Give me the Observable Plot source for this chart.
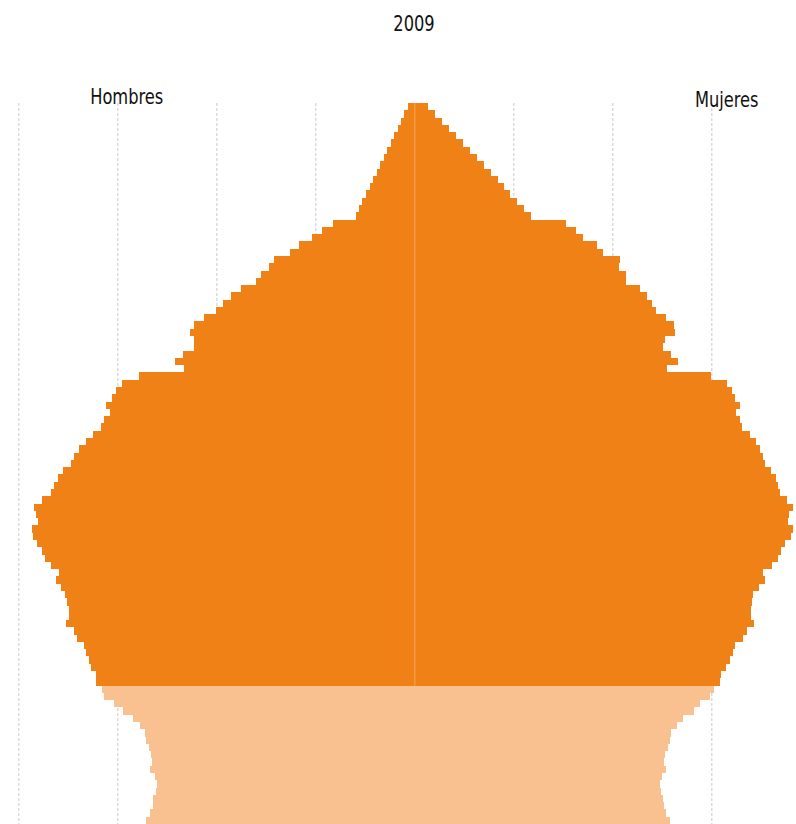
<!DOCTYPE html>
<html>
<head>
<meta charset="utf-8">
<script src="https://cdn.jsdelivr.net/npm/d3@7"></script>
<script src="https://cdn.jsdelivr.net/npm/@observablehq/plot@0.6"></script>
<style>
  html, body { margin: 0; padding: 0; background: #fff; overflow: hidden; }
  #titulo {
    height: 50px; box-sizing: border-box; padding-top: 12px; padding-left: 32px;
    text-align: center; font-family: "DejaVu Sans Condensed", "DejaVu Sans", sans-serif;
    font-size: 21px; line-height: 24px; color: #111;
  }
  #titulo span { display: inline-block; transform: scaleX(0.86); transform-origin: center; }
  #chart svg { display: block; }
</style>
</head>
<body>
<div id="titulo"><span></span></div>
<div id="chart"></div>
<script>
const anio = "2009";

// Edades de arriba (mayor) hacia abajo (visible)
const edades = d3.range(105, 6, -1);

// Población por edad (miles), mismo orden que "edades"
const hombres = [
  6, 10, 13, 17, 21, 24, 28, 31, 35, 38,
  42, 45, 49, 53, 56, 59, 82, 93, 103, 116,
  126, 142, 147, 155, 160, 175, 185, 193, 200, 212,
  223, 227, 223, 223, 234, 242, 233, 278, 295, 301,
  305, 311, 307, 313, 316, 325, 332, 339, 344, 347,
  355, 360, 364, 367, 376, 384, 382, 380, 386, 385,
  381, 376, 373, 367, 359, 362, 357, 353, 351, 349,
  349, 352, 344, 341, 334, 332, 329, 327, 322, 322,
  315, 313, 303, 294, 284, 277, 272, 271, 268, 266,
  265, 267, 262, 260, 261, 264, 264, 267, 271
];
const mujeres = [
  14, 21, 28, 35, 42, 49, 56, 63, 70, 77,
  84, 91, 97, 104, 111, 118, 153, 163, 170, 184,
  191, 208, 207, 214, 214, 228, 235, 240, 244, 254,
  262, 263, 253, 251, 259, 266, 255, 300, 316, 321,
  324, 329, 325, 329, 331, 339, 345, 349, 352, 354,
  360, 365, 367, 369, 376, 382, 378, 377, 382, 380,
  374, 370, 367, 361, 352, 354, 348, 342, 341, 340,
  340, 343, 336, 332, 324, 322, 319, 315, 310, 309,
  303, 299, 289, 282, 271, 265, 259, 258, 256, 253,
  252, 254, 250, 248, 249, 251, 252, 254, 258
];

const sexos = ["Hombres", "Mujeres"];
const marcas = [-400, -300, -200, -100, 100, 200, 300];
const edadCorte = 26; // edades menores: tono claro

const colorOscuro = "#EF8117";
const colorClaro = "#F9C190";
const fuente = '"DejaVu Sans Condensed", "DejaVu Sans", sans-serif';

document.querySelector("#titulo span").textContent = anio;

const datos = [];
edades.forEach((e, i) => {
  const tono = e < edadCorte ? colorClaro : colorOscuro;
  datos.push({edad: e, sexo: "Hombres", valor: -hombres[i], tono});
  datos.push({edad: e, sexo: "Mujeres", valor: mujeres[i], tono});
});

const grafico = Plot.plot({
  width: 796,
  height: 774,
  marginTop: 53,
  marginBottom: 0,
  marginLeft: 0,
  marginRight: 0,
  style: {fontFamily: fuente, fontSize: "21px", background: "#fff", color: "#111"},
  x: {domain: [-418.5, 385.5], axis: null},
  y: {type: "band", domain: edades, axis: null, padding: 0, round: false},
  color: {type: "identity"},
  marks: [
    Plot.ruleX(marcas, {stroke: "#c9c9c9", strokeDasharray: "3,2", strokeWidth: 1}),
    Plot.barX(datos, {x1: () => 0, x2: "valor", y: "edad", fill: "tono", shapeRendering: "crispEdges"}),
    Plot.ruleX([0], {
      y1: () => edades[0], y2: () => edadCorte,
      stroke: "#ffffff", strokeOpacity: 0.3, strokeWidth: 1
    }),
    Plot.text(sexos.filter(s => s === "Hombres"), {
      x: () => -291, text: d => d, frameAnchor: "top", lineAnchor: "bottom",
      dy: 0, fontSize: 21, fill: "#111"
    }),
    Plot.text(sexos.filter(s => s === "Mujeres"), {
      x: () => 315, text: d => d, frameAnchor: "top", lineAnchor: "bottom",
      dy: 3, fontSize: 21, fill: "#111"
    })
  ]
});

document.getElementById("chart").appendChild(grafico);

// Texto estrecho, como en la referencia
grafico.querySelectorAll("text").forEach(t => {
  const w = t.getComputedTextLength();
  if (w > 0) {
    t.setAttribute("textLength", (w * 0.86).toFixed(1));
    t.setAttribute("lengthAdjust", "spacingAndGlyphs");
  }
});
</script>
</body>
</html>
